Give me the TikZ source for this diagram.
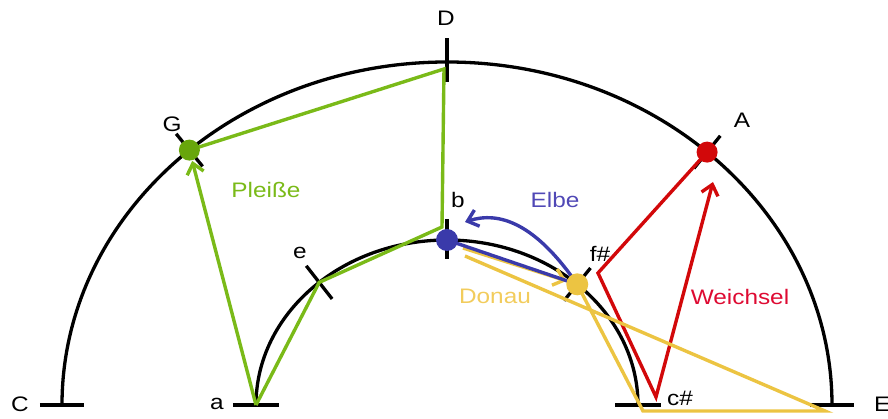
\documentclass[tikz,border=0pt]{standalone}
\usepackage{fontspec}
\setmainfont[FakeStretch=1.16]{Liberation Sans}
\usetikzlibrary{arrows.meta,calc}
\definecolor{cgreen}{RGB}{122,186,24}
\definecolor{cgreendot}{RGB}{104,166,12}
\definecolor{cred}{RGB}{210,8,10}
\definecolor{credtext}{RGB}{222,10,50}
\definecolor{cblue}{RGB}{58,58,170}
\definecolor{cbluetext}{RGB}{80,72,182}
\definecolor{cyellow}{RGB}{236,196,66}
\definecolor{cyellowtext}{RGB}{242,204,92}
\begin{document}
\begin{tikzpicture}[x=1pt,y=1pt,
  arcline/.style={draw=black,line width=3.3pt},
  tickline/.style={draw=black,line width=3.3pt},
  riv/.style={line width=3.4pt,line join=miter},
  tip/.style={-{Straight Barb[length=10pt,width=17pt,line width=3.4pt]}},
  dot/.style={circle,inner sep=0pt,minimum size=20pt},
  lbl/.style={font=\fontsize{21}{25}\selectfont,inner sep=0pt},
]
\useasboundingbox (-447,-14) rectangle (441,405);
% points
\coordinate (C) at (-385,0);
\coordinate (E) at (385,0);
\coordinate (D) at (0,343);
\coordinate (G) at (132:385 and 343);
\coordinate (A) at (47.5:385 and 343);
\coordinate (a) at (-191,0);
\coordinate (cs) at (191,0);
\coordinate (b) at (0,165);
\coordinate (e) at (132:191 and 165);
\coordinate (fs) at (47:191 and 165);
% arcs
\draw[arcline] (C) arc[start angle=180,end angle=0,x radius=385,y radius=343];
\draw[arcline] (a) arc[start angle=180,end angle=0,x radius=191,y radius=165];
% ticks
\draw[tickline] ($(C)+(-22,0)$) -- ($(C)+(22,0)$);
\draw[tickline] ($(E)+(-22,0)$) -- ($(E)+(22,0)$);
\draw[tickline] ($(a)+(-23,0)$) -- ($(a)+(23,0)$);
\draw[tickline] ($(cs)+(-23,0)$) -- ($(cs)+(23,0)$);
\draw[tickline] ($(D)+(0,-20)$) -- ($(D)+(0,24)$);
\draw[tickline] ($(b)+(0,-19)$) -- ($(b)+(0,21)$);
\draw[tickline] ($(G)+(129:21)$) -- ($(G)+(-51:21)$);
\draw[tickline] ($(A)+(51:21)$) -- ($(A)+(231:21)$);
\draw[tickline] ($(e)+(128:21)$) -- ($(e)+(-52:21)$);
\draw[tickline] ($(fs)+(51:21)$) -- ($(fs)+(231:21)$);
% dots (nodes)
\node[dot,minimum size=22pt] (Gd) at (G) {};
\node[dot,minimum size=22pt] (Ad) at (A) {};
% green: Pleisse
\coordinate (g1) at (-5,178);
\coordinate (g2) at (-3,336);
\draw[riv,draw=cgreen] (a) -- (e) -- (g1) -- (g2) -- (G);
\draw[riv,draw=cgreen,tip] (a) -- (Gd);
% red: Weichsel
\coordinate (r1) at (151,132);
\coordinate (r2) at (209,8);
\coordinate (r3) at (266,223);
\draw[riv,draw=cred,tip] (A) -- (r1) -- (r2) -- (r3);
% yellow: Donau
\coordinate (y0) at (18,149);
\coordinate (y1) at (196,-6);
\coordinate (y2) at (378,-6);
\coordinate (y3) at (16,157);
\node[dot,minimum size=22pt] (Fd) at (fs) {};
\draw[riv,draw=cyellow] (fs) -- (y1) -- (y2) -- (y0);
\draw[riv,draw=cyellow,tip] (y3) -- (Fd);
% blue: Elbe
\node[dot,minimum size=22pt] (Bd) at (b) {};
\coordinate (e1) at (18,183);
\draw[riv,draw=cblue] (b) -- (fs);
\draw[riv,draw=cblue,tip] (fs) .. controls (88,182) and (52,194) .. (e1);
% dots on top
\fill[cblue] (b) circle[radius=11];
\fill[cyellow] (fs) circle[radius=11];
\fill[cgreendot] (G) circle[radius=10.5];
\fill[cred] (A) circle[radius=10.5];
% labels
\node[lbl] (lC) at (-427,1) {C};
\node[lbl] (la) at (-230,1) {a};
\node[lbl] (lD) at (-1,387) {D};
\node[lbl] (lG) at (-275,281) {G};
\node[lbl] (lA) at (295,285) {A};
\node[lbl,anchor=west] (lE) at (427,1) {E};
\node[lbl] (le) at (-147,152) {e};
\node[lbl] (lb) at (11,205) {b};
\node[lbl] (lfs) at (153,151) {f\#};
\node[lbl] (lcs) at (233,7) {c\#};
\node[lbl,text=cgreen] (lP) at (-181,215) {Pleiße};
\node[lbl,text=cbluetext] (lEl) at (108,205) {Elbe};
\node[lbl,text=cyellowtext] (lDo) at (48,109) {Donau};
\node[lbl,text=credtext] (lW) at (293,108) {Weichsel};
\end{tikzpicture}
\end{document}
